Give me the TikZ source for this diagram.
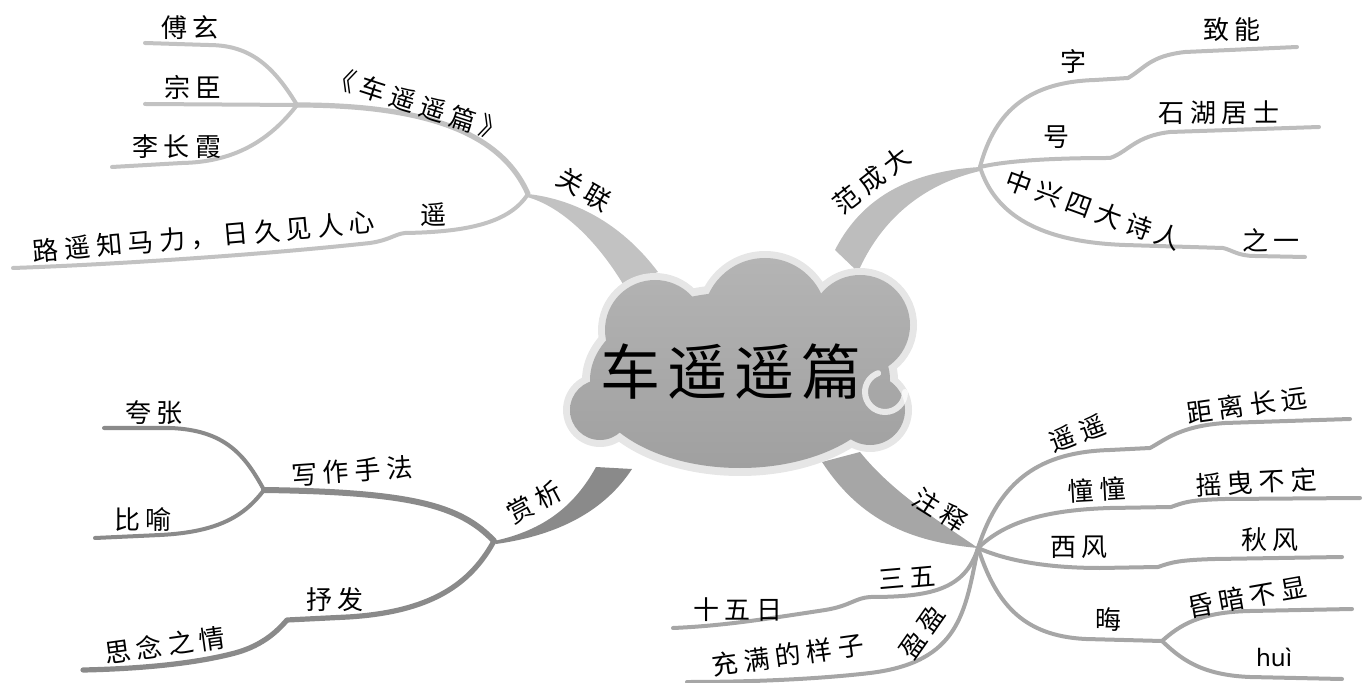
\documentclass[tikz,border=0pt]{standalone}
\usepackage{fontspec}
\newfontfamily\cjk[LetterSpace=22]{Noto Sans CJK SC}
\newfontfamily\cjktitle[LetterSpace=12]{Noto Sans CJK SC}
\newfontfamily\pyfont{Noto Sans}
\usetikzlibrary{positioning}
\definecolor{relgray}{HTML}{C2C2C2}
\definecolor{fangray}{HTML}{BDBDBD}
\definecolor{appgray}{HTML}{8A8A8A}
\definecolor{notegray}{HTML}{A6A6A6}
\definecolor{cloudtop}{HTML}{B4B4B4}
\definecolor{cloudbot}{HTML}{A0A0A0}
\definecolor{cloudglow}{HTML}{E6E6E6}

\begin{document}
\begin{tikzpicture}[x=0.5pt,y=-0.5pt,
  lbl/.style={font=\cjk\fontsize{13}{13}\selectfont,inner sep=0pt},
  pinyin/.style={font=\pyfont\fontsize{12}{12}\selectfont,inner sep=0pt},
  title/.style={font=\cjktitle\fontsize{30}{30}\selectfont,inner sep=0pt},
  twig/.style={line width=2pt,line cap=round,line join=round}]
\useasboundingbox (0,0) rectangle (1363,683);

% junctions
\coordinate (jrel) at (528,194);
\coordinate (jwork) at (297,105);
\coordinate (jfan) at (980,167);
\coordinate (japp) at (494,541);
\coordinate (jtech) at (264,490);
\coordinate (jnote) at (978,548);
\coordinate (jhui) at (1162,641);

% trunks
\fill[relgray] (jrel) .. controls (580,200) and (625,228) .. (658,272)
  -- (623,284) .. controls (595,238) and (560,206) .. (527,197) -- cycle;
\fill[fangray] (835,250) .. controls (858,205) and (900,172) .. (jfan)
  -- (980,171) .. controls (920,185) and (880,222) .. (858,272) -- cycle;
\fill[appgray] (596,467) .. controls (575,505) and (545,530) .. (japp)
  -- (496,544) .. controls (560,535) and (605,510) .. (632,469) -- cycle;
\fill[notegray] (822,462) .. controls (860,520) and (910,542) .. (jnote)
  .. controls (940,522) and (892,492) .. (860,452) -- cycle;

% cloud
\fill[cloudglow] (740,380) ellipse [x radius=158,y radius=96]
  (655,330) circle (57) (765,320) circle (69) (860,325) circle (57)
  (600,410) circle (37) (870,410) circle (42);
\shade[top color=cloudtop,bottom color=cloudbot]
  (740,380) ellipse [x radius=150,y radius=88]
  (655,330) circle (50) (765,320) circle (62) (860,325) circle (50)
  (600,410) circle (30) (870,410) circle (35);
\draw[white,opacity=0.75,line width=3pt,line cap=round] (905,392) arc[start angle=0,end angle=250,radius=20];
\node[title] (main) at (731,372) {车遥遥篇};

% 关联
\coordinate (e-fuxuan) at (145,43);
\coordinate (e-zongchen) at (145,104);
\coordinate (e-lichangxia) at (112,167);
\coordinate (e-proverb) at (13,268);
\draw[twig,relgray] (jwork) .. controls (270,60) and (245,45) .. (208,45) -- (e-fuxuan);
\draw[twig,relgray] (jwork) -- (e-zongchen);
\draw[twig,relgray] (jwork) .. controls (270,140) and (235,162) .. (182,163) -- (e-lichangxia);
\draw[twig,relgray,line width=2.6pt] (jwork) .. controls (420,105) and (500,130) .. (jrel);
\draw[twig,relgray] (jrel) .. controls (510,222) and (470,232) .. (405,233)
  .. controls (395,234) and (390,240) .. (370,243) .. controls (250,256) and (100,265) .. (e-proverb);

% 范成大
\coordinate (e-zhineng) at (1297,47);
\coordinate (e-shihu) at (1319,127);
\coordinate (e-zhiyi) at (1305,257);
\draw[twig,fangray] (jfan) .. controls (995,110) and (1030,82) .. (1095,80) -- (1128,78)
  .. controls (1145,68) and (1150,56) .. (1185,52) -- (e-zhineng);
\draw[twig,fangray] (jfan) .. controls (1010,160) and (1060,158) .. (1110,158)
  .. controls (1128,152) and (1135,136) .. (1170,132) -- (e-shihu);
\draw[twig,fangray] (jfan) .. controls (995,215) and (1040,242) .. (1125,245) -- (1223,248)
  .. controls (1232,250) and (1238,256) .. (1255,256) -- (e-zhiyi);

% 赏析
\coordinate (e-kuazhang) at (104,428);
\coordinate (e-biyu) at (95,538);
\coordinate (e-sinian) at (83,670);
\draw[twig,appgray,line width=3pt] (japp) .. controls (460,505) and (410,492) .. (jtech);
\draw[twig,appgray] (jtech) .. controls (245,455) and (225,430) .. (170,428) -- (e-kuazhang);
\draw[twig,appgray] (jtech) .. controls (245,515) and (220,532) .. (160,535) -- (e-biyu);
\draw[twig,appgray,line width=2.6pt] (japp) .. controls (470,585) and (430,612) .. (348,617) -- (287,620)
  .. controls (280,628) and (265,645) .. (235,653) .. controls (190,665) and (130,669) .. (e-sinian);

% 注释
\coordinate (e-juli) at (1350,419);
\coordinate (e-yaoye) at (1360,498);
\coordinate (e-qiufeng) at (1342,557);
\coordinate (e-hunan) at (1352,609);
\coordinate (e-huipy) at (1342,679);
\coordinate (e-shiwu) at (673,628);
\coordinate (e-chongman) at (687,682);
\draw[twig,notegray] (jnote) .. controls (1000,480) and (1040,452) .. (1110,450) -- (1150,448)
  .. controls (1165,440) and (1180,426) .. (1225,423) -- (e-juli);
\draw[twig,notegray] (jnote) .. controls (1005,522) and (1045,510) .. (1110,508) -- (1171,507)
  .. controls (1185,502) and (1190,500) .. (1225,499) -- (e-yaoye);
\draw[twig,notegray] (jnote) .. controls (1005,560) and (1045,568) .. (1100,568) -- (1158,567)
  .. controls (1172,562) and (1180,560) .. (1215,559) -- (e-qiufeng);
\draw[twig,notegray] (jnote) .. controls (995,600) and (1020,636) .. (1086,639) -- (jhui);
\draw[twig,notegray] (jhui) .. controls (1180,625) and (1200,612) .. (1250,611) -- (e-hunan);
\draw[twig,notegray] (jhui) .. controls (1180,658) and (1200,675) .. (1250,677) -- (e-huipy);
\draw[twig,notegray] (jnote) .. controls (965,590) and (930,597) .. (870,597)
  .. controls (855,598) and (850,606) .. (825,610) .. controls (760,620) and (720,626) .. (e-shiwu);
\draw[twig,notegray] (jnote) .. controls (965,612) and (960,662) .. (870,673)
  .. controls (810,680) and (740,682) .. (e-chongman);

% labels
\node[lbl] (fuxuan) at (190,28) {傅玄};
\node[lbl] (zongchen) at (193,87) {宗臣};
\node[lbl] (lichangxia) at (177,147) {李长霞};
\node[lbl,rotate=-18] (poem) at (418,104) {《车遥遥篇》};
\node[lbl,rotate=-30] (guanlian) at (584,190) {关联};
\node[lbl] (yao) at (433,215) {遥};
\node[lbl,rotate=5] (proverb) at (204,237) {路遥知马力，日久见人心};
\node[lbl,rotate=38] (fcd) at (872,180) {范成大};
\node[lbl] (zi) at (1073,62) {字};
\node[lbl] (zhineng) at (1232,30) {致能};
\node[lbl] (hao) at (1056,137) {号};
\node[lbl] (shihu) at (1219,113) {石湖居士};
\node[lbl,rotate=-20] (zhongxing) at (1094,210) {中兴四大诗人};
\node[lbl] (zhiyi) at (1271,240) {之一};
\node[lbl,rotate=28] (shangxi) at (534,502) {赏析};
\node[lbl,rotate=4] (xiezuo) at (352,471) {写作手法};
\node[lbl] (kuazhang) at (154,413) {夸张};
\node[lbl] (biyu) at (143,520) {比喻};
\node[lbl] (shufa) at (335,600) {抒发};
\node[lbl,rotate=8] (sinian) at (165,645) {思念之情};
\node[lbl,rotate=-32] (zhushi) at (940,510) {注释};
\node[lbl,rotate=20] (yaoyao) at (1077,433) {遥遥};
\node[lbl,rotate=8] (juli) at (1247,405) {距离长远};
\node[lbl,rotate=3] (chong) at (1097,490) {憧憧};
\node[lbl,rotate=3] (yaoye) at (1256,482) {摇曳不定};
\node[lbl] (xifeng) at (1079,547) {西风};
\node[lbl] (qiufeng) at (1270,540) {秋风};
\node[lbl] (hui) at (1108,620) {晦};
\node[lbl,rotate=10] (hunan) at (1247,597) {昏暗不显};
\node[pinyin] (huipy) at (1274,657) {huì};
\node[lbl,rotate=5] (sanwu) at (907,578) {三五};
\node[lbl] (shiwu) at (738,610) {十五日};
\node[lbl,rotate=55] (yingying) at (922,632) {盈盈};
\node[lbl,rotate=8] (chongman) at (788,655) {充满的样子};
\end{tikzpicture}
\end{document}
